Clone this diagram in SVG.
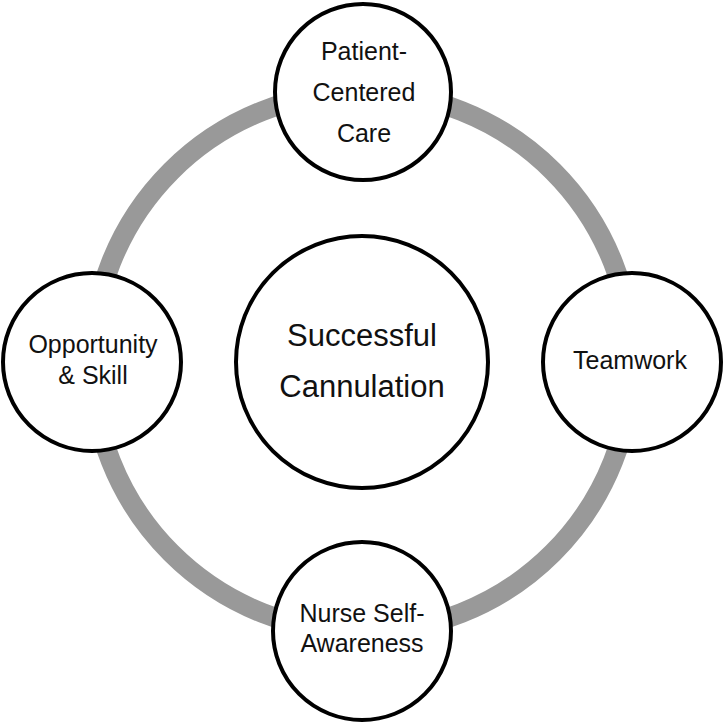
<svg xmlns="http://www.w3.org/2000/svg" width="724" height="724" viewBox="0 0 724 724">
<style>
.node{fill:#fff;stroke:#000;stroke-width:4}
.lbl{font-family:"Liberation Sans",Arial,sans-serif;font-size:25px;fill:#111;text-anchor:middle}
.big{font-size:31px}
</style>
<rect width="724" height="724" fill="#fff"/>
<g id="connectors">
<circle cx="362" cy="362" r="270" fill="none" stroke="#999" stroke-width="20"/>
</g>
<g id="center">
<circle class="node" cx="362" cy="362" r="126"/>
<text class="lbl big" x="362" y="346">Successful</text>
<text class="lbl big" x="362" y="397">Cannulation</text>
</g>
<g id="patient-centered-care">
<circle class="node" cx="363" cy="92" r="88"/>
<text class="lbl" x="364" y="60">Patient-</text>
<text class="lbl" x="364" y="101">Centered</text>
<text class="lbl" x="364" y="142">Care</text>
</g>
<g id="teamwork">
<circle class="node" cx="632" cy="362" r="89"/>
<text class="lbl" x="630" y="369">Teamwork</text>
</g>
<g id="nurse-self-awareness">
<circle class="node" cx="362" cy="631" r="89"/>
<text class="lbl" x="362" y="622">Nurse Self-</text>
<text class="lbl" x="362" y="652">Awareness</text>
</g>
<g id="opportunity-skill">
<circle class="node" cx="92" cy="362" r="89"/>
<text class="lbl" x="93" y="353">Opportunity</text>
<text class="lbl" x="93" y="384">&amp; Skill</text>
</g>
</svg>
